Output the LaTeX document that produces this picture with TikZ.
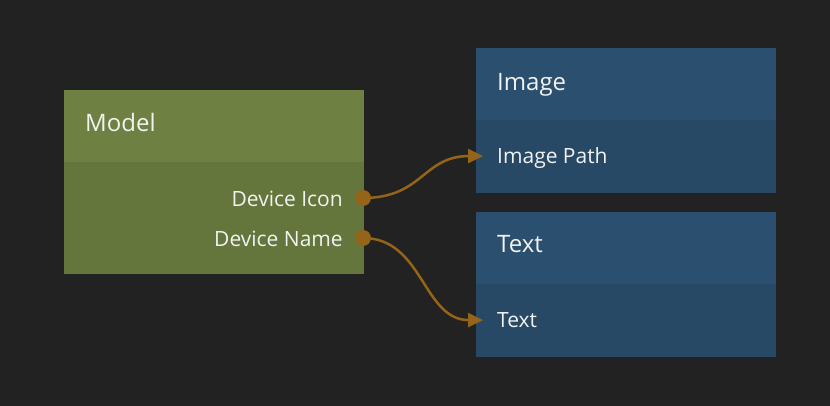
\documentclass[tikz,border=0pt]{standalone}
\usepackage{fontspec}
\setmainfont{Open Sans}
\usetikzlibrary{arrows.meta, positioning}
\definecolor{bgdark}{HTML}{222222}
\definecolor{modelhead}{HTML}{6E8142}
\definecolor{modelbody}{HTML}{64763B}
\definecolor{bluehead}{HTML}{2B4F6F}
\definecolor{bluebody}{HTML}{284966}
\definecolor{wirecol}{HTML}{946418}
\definecolor{labelcol}{HTML}{F2F2F2}

\begin{document}
\begin{tikzpicture}[x=1pt, y=-1pt]
  \tikzset{
    header/.style={
      rectangle, fill=#1, inner sep=0pt, anchor=north west,
      minimum width=300pt, minimum height=72pt
    },
    panel/.style 2 args={
      rectangle, fill=#1, inner sep=0pt,
      minimum width=300pt, minimum height=#2
    },
    title/.style={anchor=base west, inner sep=0pt, text=labelcol, font=\fontsize{24}{28}\selectfont},
    port label/.style={inner sep=0pt, text=labelcol, font=\fontsize{21}{25}\selectfont},
    port/.style={circle, fill=wirecol, inner sep=0pt, minimum size=16pt},
    wire/.style={draw=wirecol, line width=2.5pt, -{Triangle[length=15pt, width=14pt]}}
  }

  \fill[bgdark] (0,0) rectangle (830,406);

  % model node
  \node[header=modelhead] (model) at (64,90) {};
  \node[panel={modelbody}{112pt}, below=-1pt of model] (modelbody) {};
  \node[title] (modeltitle) at (85,132) {Model};
  \node[port label, anchor=base east] (iconlabel) at (343,206.5) {Device Icon};
  \node[port label, anchor=base east] (namelabel) at (343,246.5) {Device Name};

  % image node
  \node[header=bluehead] (image) at (476,48) {};
  \node[panel={bluebody}{73pt}, below=-1pt of image] (imagebody) {};
  \node[title] (imagetitle) at (497,90.5) {Image};
  \node[port label, anchor=base west] (pathlabel) at (497,164) {Image Path};

  % text node
  \node[header=bluehead] (text) at (476,212) {};
  \node[panel={bluebody}{73pt}, below=-1pt of text] (textbody) {};
  \node[title] (texttitle) at (497,253) {Text};
  \node[port label, anchor=base west] (txtlabel) at (497,327) {Text};

  % ports
  \coordinate (iconout) at (363,198);
  \coordinate (nameout) at (363,238);
  \coordinate (pathin) at ([xshift=7pt]imagebody.west);
  \coordinate (txtin) at ([xshift=7pt]textbody.west);
  \draw[wire] (iconout) .. controls +(60,0) and +(-60,0) .. (pathin);
  \draw[wire] (nameout) .. controls +(60,0) and +(-60,0) .. (txtin);
  \node[port] (iconport) at (iconout) {};
  \node[port] (nameport) at (nameout) {};
\end{tikzpicture}
\end{document}
